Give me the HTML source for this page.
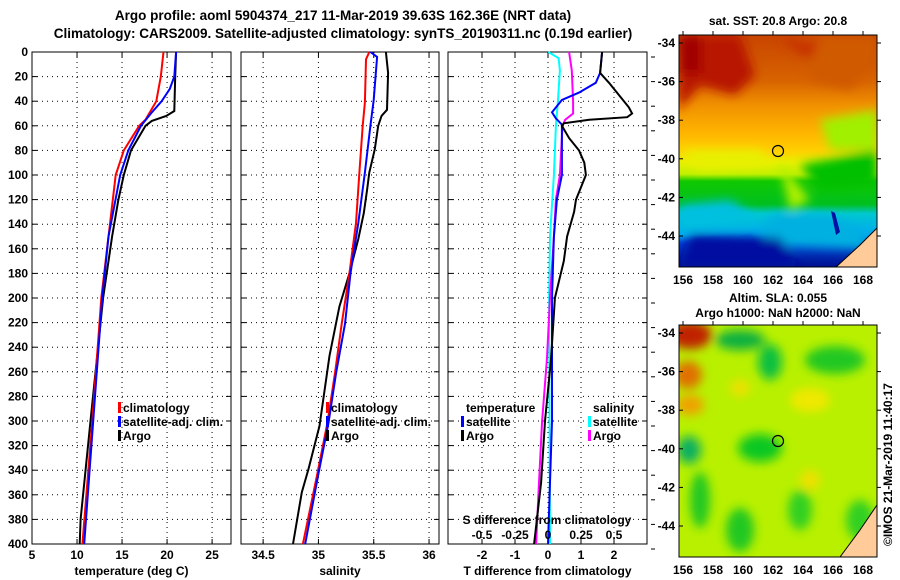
<!DOCTYPE html>
<html><head><meta charset="utf-8">
<style>
body{margin:0;background:#fff;}
svg{display:block;font-family:"Liberation Sans",Arial,sans-serif;font-weight:bold;}
text{font-size:12px;fill:#000;}
.t{font-size:13.5px;}
</style></head>
<body>
<svg id="c" width="900" height="580" viewBox="0 0 900 580">
<defs>
<linearGradient id="sst" x1="0" y1="0" x2="0" y2="1">
<stop offset="0" stop-color="#c84400"/>
<stop offset="0.2" stop-color="#d86400"/>
<stop offset="0.3" stop-color="#f09000"/>
<stop offset="0.42" stop-color="#ffb400"/>
<stop offset="0.5" stop-color="#ffd000"/>
<stop offset="0.55" stop-color="#e8f000"/>
<stop offset="0.6" stop-color="#c0f000"/>
<stop offset="0.63" stop-color="#10c800"/>
<stop offset="0.73" stop-color="#00c020"/>
<stop offset="0.77" stop-color="#00c8d0"/>
<stop offset="0.86" stop-color="#00a8f0"/>
<stop offset="0.9" stop-color="#0040d0"/>
<stop offset="1" stop-color="#001090"/>
</linearGradient>
<clipPath id="m1"><rect x="679" y="35" width="198" height="232"/></clipPath>
<clipPath id="m2"><rect x="679" y="325" width="198" height="232"/></clipPath>
<filter id="bl"><feGaussianBlur stdDeviation="5"/></filter>
</defs>
<text class="t" x="343" y="20" text-anchor="middle">Argo profile: aoml 5904374_217 11-Mar-2019 39.63S 162.36E (NRT data)</text>
<text class="t" x="343" y="38" text-anchor="middle">Climatology: CARS2009. Satellite-adjusted climatology: synTS_20190311.nc (0.19d earlier)</text>
<g id="plots"></g>

<g>
<text x="778" y="25" text-anchor="middle">sat. SST: 20.8 Argo: 20.8</text>
<g clip-path="url(#m1)">
<rect x="679" y="35" width="198" height="232" fill="url(#sst)"/>
<g filter="url(#bl)">
<polygon points="679,35 740,35 755,75 735,95 700,85 679,110" fill="#b81800"/>
<rect x="679" y="35" width="22" height="38" fill="#a00000"/>
<polygon points="800,35 877,35 877,60 850,90 810,80" fill="#d05a00"/>
<polygon points="780,40 820,40 810,60" fill="#c83000"/>
<polygon points="800,165 877,150 877,185 820,190" fill="#00c000"/>
<polygon points="820,120 877,110 877,150 830,150" fill="#a0f000"/>
<polygon points="680,150 760,150 770,165 700,170" fill="#e8f000"/>
<polygon points="779,160 810,200 790,210" fill="#b0f000"/>
<polygon points="679,205 730,200 760,220 679,230" fill="#00c0e0"/>
<polygon points="770,215 830,215 860,230 877,250 760,245" fill="#00b0e0"/>
<polygon points="690,235 780,238 800,267 679,267" fill="#0010a0"/>
</g>
<polygon points="831,211 835,213 840,232 836,235" fill="#0010a0"/>
<polygon points="836,267 860,245 877,228 877,267" fill="#ffcc99"/>
<polyline points="836,267 860,245 877,228" fill="none" stroke="#000" stroke-width="1"/>
</g>
<rect x="679" y="35" width="198" height="232" fill="none" stroke="#000"/>
<circle cx="778" cy="151" r="5.5" fill="none" stroke="#000" stroke-width="1.2"/>
</g>

<g>
<text x="778" y="302" text-anchor="middle">Altim. SLA: 0.055</text>
<text x="778" y="317" text-anchor="middle">Argo h1000: NaN h2000: NaN</text>
<g clip-path="url(#m2)">
<rect x="679" y="325" width="198" height="232" fill="#b8f000"/>
<g filter="url(#bl)">
<ellipse cx="690" cy="335" rx="22" ry="14" fill="#c02000"/>
<ellipse cx="688" cy="375" rx="14" ry="14" fill="#e07000"/>
<ellipse cx="690" cy="405" rx="14" ry="10" fill="#f0a000"/>
<ellipse cx="740" cy="340" rx="25" ry="10" fill="#10b040"/>
<ellipse cx="770" cy="362" rx="12" ry="18" fill="#10c040"/>
<ellipse cx="835" cy="360" rx="30" ry="14" fill="#20c820"/>
<ellipse cx="740" cy="388" rx="10" ry="8" fill="#f0e000"/>
<ellipse cx="760" cy="448" rx="22" ry="14" fill="#10c820"/>
<ellipse cx="689" cy="450" rx="12" ry="14" fill="#10b060"/>
<ellipse cx="700" cy="500" rx="10" ry="28" fill="#20c820"/>
<ellipse cx="740" cy="530" rx="14" ry="22" fill="#20c820"/>
<ellipse cx="800" cy="510" rx="12" ry="20" fill="#30d020"/>
<ellipse cx="860" cy="520" rx="14" ry="20" fill="#30d020"/>
<ellipse cx="810" cy="400" rx="20" ry="12" fill="#f0e800"/>
<ellipse cx="810" cy="480" rx="10" ry="10" fill="#f0e000"/>
</g>
<polygon points="840,557 860,530 877,505 877,557" fill="#ffcc99"/>
<polyline points="840,557 860,530 877,505" fill="none" stroke="#000"/>
</g>
<rect x="679" y="325" width="198" height="232" fill="none" stroke="#000"/>
<circle cx="778" cy="441" r="5.5" fill="none" stroke="#000" stroke-width="1.2"/>
</g>
<g id="maps"></g>
<text transform="translate(892,546) rotate(-90)" font-size="12">©IMOS 21-Mar-2019 11:40:17</text>
</svg>
<script>
const depthTicks = [0,20,40,60,80,100,120,140,160,180,200,220,240,260,280,300,320,340,360,380,400];
const tempTicks = [5,10,15,20,25];
const climTDepth = [0,20,40,55,60,80,100,200,300,400];
const climTVal = [19.6,19.3,18.8,17.6,16.9,15.2,14.3,12.7,11.7,10.6];
const satTDepth = [0,20,30,40,50,60,80,100,150,200,300,400];
const satTVal = [21.0,20.8,20.3,19.4,18.2,17.1,15.7,14.8,13.5,12.8,11.8,10.8];
const argoTDepth = [0,20,48,52,56,60,80,100,120,150,200,300,380,400];
const argoTVal = [21.0,20.9,20.8,19.9,18.3,17.6,16.0,15.2,14.6,13.9,12.9,11.5,10.4,10.3];
const salTicks = [34.5,35,35.5,36];
const climSDepth = [0,6,41,60,98,139,180,221,261,302,343,400];
const climSVal = [35.46,35.43,35.42,35.40,35.37,35.34,35.28,35.21,35.15,35.08,34.99,34.86];
const satSDepth = [0,4,39,60,98,139,180,221,261,302,343,400];
const satSVal = [35.47,35.53,35.50,35.47,35.42,35.36,35.29,35.24,35.16,35.09,35.00,34.88];
const argoSDepth = [0,17,47,52,60,79,98,112,131,152,180,207,247,304,339,358,400];
const argoSVal = [35.61,35.63,35.62,35.57,35.54,35.51,35.46,35.44,35.41,35.36,35.28,35.19,35.10,35.01,34.91,34.85,34.77];
const tDiffTicks = [-2,-1,0,1,2];
const sDiffTicks = [-0.5,-0.25,0,0.25,0.5];
const sDiffLabels = ["-0.5","-0.25","0","0.25","0.5"];
const satDTDepth = [0,17,25,33,39,49,54,59,80,100,120,150,200,300,400];
const satDTVal = [1.64,1.58,1.45,0.94,0.42,0.12,0.24,0.42,0.42,0.42,0.27,0.18,0.12,0.12,0.0];
const argoDTDepth = [0,17,25,35,45,50,53,55,58,60,70,80,90,100,110,120,130,150,170,200,250,300,350,400];
const argoDTVal = [1.64,1.58,1.85,2.15,2.45,2.55,2.4,1.25,0.48,0.42,0.64,0.94,1.1,1.15,1.0,0.85,0.79,0.58,0.48,0.21,0.09,-0.09,-0.21,-0.42];
const satDSDepth = [0,5,15,40,60,100,150,200,400];
const satDSVal = [0.002,0.08,0.09,0.075,0.06,0.045,0.015,0.008,0.015];
const argoDSDepth = [0,15,40,50,55,60,80,100,120,150,200,250,300,350,400];
const argoDSVal = [0.16,0.18,0.19,0.19,0.13,0.11,0.1,0.09,0.06,0.045,0.015,-0.008,-0.045,-0.068,-0.09];

const NS='http://www.w3.org/2000/svg';
const root=document.getElementById('plots');
function mk(tag,attrs,parent){const e=document.createElementNS(NS,tag);for(const k in attrs)e.setAttribute(k,attrs[k]);(parent||root).appendChild(e);return e;}
const Y0=52,Y1=544;
function yS(d){return Y0+(d/400)*(Y1-Y0);}

function panel(name,x0,x1,dmin,dmax,ticks,tickLabels,title,leftLabels){
  const g=mk('g',{});
  
  
  const xs=v=>x0+(v-dmin)/(dmax-dmin)*(x1-x0);
  depthTicks.forEach(d=>{
    if(d>0&&d<400){const l=mk('line',{x1:x0,x2:x1,y1:yS(d),y2:yS(d),stroke:'#000','stroke-width':1,'stroke-dasharray':'1,4'},g);
    
    }
    mk('line',{x1:x0,x2:x0+5,y1:yS(d),y2:yS(d),stroke:'#000'},g);
    mk('line',{x1:x1-5,x2:x1,y1:yS(d),y2:yS(d),stroke:'#000'},g);
    if(leftLabels){const t=mk('text',{x:x0-4,y:yS(d)+4,'text-anchor':'end'},g);t.textContent=d;
    
    }
  });
  ticks.forEach((v,i)=>{
    const l=mk('line',{x1:xs(v),x2:xs(v),y1:Y0,y2:Y1,stroke:'#000','stroke-dasharray':'1,4'},g);
    
    
    mk('line',{x1:xs(v),x2:xs(v),y1:Y1,y2:Y1-5,stroke:'#000'},g);
    mk('line',{x1:xs(v),x2:xs(v),y1:Y0,y2:Y0+5,stroke:'#000'},g);
    const t=mk('text',{x:xs(v),y:559,'text-anchor':'middle'},g);t.textContent=tickLabels[i];
    
    
  });
  const tt=mk('text',{x:(x0+x1)/2,y:575,'text-anchor':'middle'},g);tt.textContent=title;
  
  
  const fr=mk('rect',{x:x0,y:Y0,width:x1-x0,height:Y1-Y0,fill:'none',stroke:'#000','stroke-width':1},g);
  
  
  return {g,xs};
}
function line(p,depths,vals,color,name,scale){
  const pts=depths.map((d,i)=>p.xs(vals[i]*(scale||1)).toFixed(1)+','+yS(d).toFixed(1)).join(' ');
  const l=mk('polyline',{points:pts,fill:'none',stroke:color,'stroke-width':2},p.g);
  
  
}
function legend(g,x,y,items){
  items.forEach((it,i)=>{
    const yy=y+i*14;
    if(it[1]){const m=mk('rect',{x:x,y:yy-10,width:3,height:11,fill:it[1]},g);
    
    }
    const t=mk('text',{x:x+5,y:yy},g);t.textContent=it[0];
    
    
  });
}
const p1=panel('temperature-panel',32,231,5,27.1,tempTicks,tempTicks.map(String),'temperature (deg C)',true);
line(p1,argoTDepth,argoTVal,'#000','argo-temperature-line');
line(p1,climTDepth,climTVal,'#f00','climatology-temperature-line');
line(p1,satTDepth,satTVal,'#00f','satellite-temperature-line');
legend(p1.g,118,412,[['climatology','#f00'],['satellite-adj. clim.','#00f'],['Argo','#000']]);
const p2=panel('salinity-panel',241,439,34.30,36.09,salTicks,salTicks.map(String),'salinity',false);
line(p2,argoSDepth,argoSVal,'#000','argo-salinity-line');
line(p2,climSDepth,climSVal,'#f00','climatology-salinity-line');
line(p2,satSDepth,satSVal,'#00f','satellite-salinity-line');
legend(p2.g,326,412,[['climatology','#f00'],['satellite-adj. clim.','#00f'],['Argo','#000']]);
const p3=panel('difference-panel',448,647,-3.03,3.0,tDiffTicks,tDiffTicks.map(String),'T difference from climatology',false);
line(p3,satDSDepth,satDSVal,'#00ffff','satellite-salinity-diff-line',4);
line(p3,argoDSDepth,argoDSVal,'#ff00ff','argo-salinity-diff-line',4);
line(p3,satDTDepth,satDTVal,'#00f','satellite-temperature-diff-line');
line(p3,argoDTDepth,argoDTVal,'#000','argo-temperature-diff-line');
legend(p3.g,461,412,[['temperature',null],['satellite','#00f'],['Argo','#000']]);
legend(p3.g,588,412,[['salinity',null],['satellite','#00ffff'],['Argo','#ff00ff']]);
const st=mk('text',{x:547,y:524,'text-anchor':'middle'},p3.g);st.textContent='S difference from climatology';


sDiffTicks.forEach((v,i)=>{
  const t=mk('text',{x:p3.xs(v*4),y:539,'text-anchor':'middle'},p3.g);t.textContent=sDiffLabels[i];
  
  
});
depthTicks.forEach(d=>{mk('line',{x1:651,x2:655,y1:yS(d)+5,y2:yS(d)+5,stroke:'#000'},p3.g);});

const mroot=document.getElementById('maps');
const latTicks=[34,36,38,40,42,44];
const lonTicks=[156,158,160,162,164,166,168];
function mapAxes(top,latY0,lonLabelY){
  latTicks.forEach((lat,i)=>{
    const y=latY0+i*38.6;
    const t=mk('text',{x:675,y:y+4,'text-anchor':'end'},mroot);t.textContent='-'+lat;
    
    
    mk('line',{x1:679,x2:683,y1:y,y2:y,stroke:'#000'},mroot);
    mk('line',{x1:877,x2:881,y1:y,y2:y,stroke:'#000'},mroot);
  });
  lonTicks.forEach((lon,i)=>{
    const x=683+i*30;
    const t=mk('text',{x:x,y:lonLabelY,'text-anchor':'middle'},mroot);t.textContent=lon;
    
    
    mk('line',{x1:x,x2:x,y1:top-4,y2:top,stroke:'#000'},mroot);
  });
}
mapAxes(35,43,284);
mapAxes(325,333,574);
</script>
</body></html>
